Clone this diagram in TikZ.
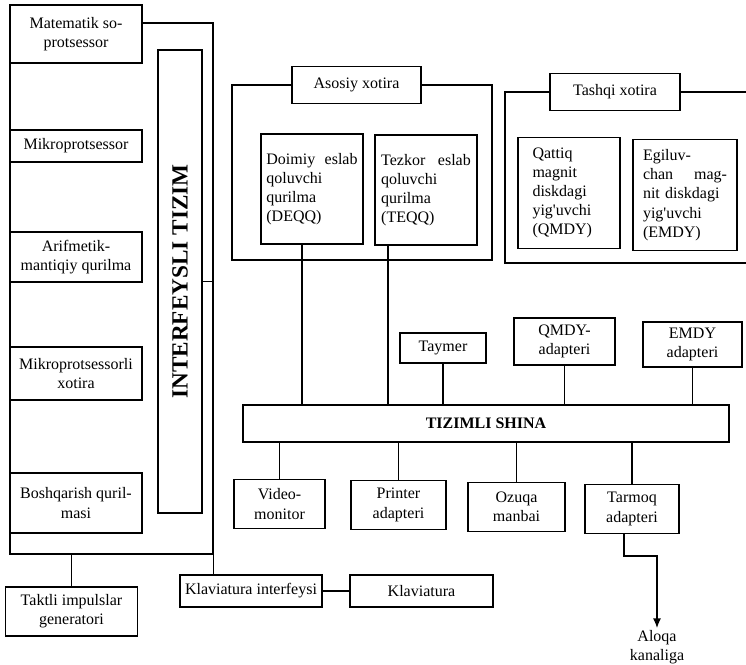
\documentclass[tikz,border=0pt]{standalone}
\usepackage{fontspec}
\setmainfont{Liberation Serif}
\usetikzlibrary{calc, positioning, arrows.meta}

\begin{document}
\begin{tikzpicture}[
        x=0.625pt, y=-0.625pt,
        font=\fontsize{10}{12}\selectfont,
        >={Latex[length=6pt, width=5pt]},
        line width=0.75pt,
        box/.style={
            draw,
            fill=white,
            align=center,
            inner sep=2pt
        },
        membox/.style={
            box,
            align=left,
            minimum width=63.75pt,
            minimum height=68.75pt
        },
        busbox/.style={
            box,
            line width=1.6pt
        },
        frame/.style={
            draw,
            inner sep=0pt
        }
    ]
    \useasboundingbox (0,0) rectangle (746,665);

    % --- PROCESSOR ---
    \node[frame, minimum width=126.9pt, minimum height=331.9pt] (cpu) at (111.5,288.5) {};
    \node[box, minimum width=82.5pt, minimum height=36.25pt] (copro) at (76,34) {Matematik so-\\protsessor};
    \node[box, minimum width=82.5pt, minimum height=20pt] (mp) at (76,146) {Mikroprotsessor};
    \node[box, minimum width=82.5pt, minimum height=31.25pt] (alu) at (76,257) {Arifmetik-\\mantiqiy qurilma};
    \node[box, minimum width=82.5pt, minimum height=33.1pt] (mpmem) at (76,373.5) {Mikroprotsessorli\\xotira};
    \node[box, minimum width=82.5pt, minimum height=37.5pt] (ctrl) at (76,503) {Boshqarish quril-\\masi};
    \node[busbox, rotate=90, minimum width=289.4pt, minimum height=27.5pt,
        font=\bfseries\fontsize{14.5}{16}\selectfont] (iface) at (180,281.5) {INTERFEYSLI TIZIM};

    % --- CLOCK, KEYBOARD ---
    \node[box, minimum width=82.5pt, minimum height=30.6pt] (clk) at (71.5,611.5) {Taktli impulslar\\generatori};
    \node[box, minimum width=88.75pt, minimum height=20pt] (kbdif) at (251,591) {Klaviatura interfeysi};
    \node[box, minimum width=89.4pt, minimum height=20pt] (kbd) at (421.5,591) {Klaviatura};

    % --- MAIN MEMORY ---
    \node[frame, minimum width=162.5pt, minimum height=109.4pt] (ram) at (362,172.5) {};
    \node[box, minimum width=80.6pt, minimum height=23.1pt] (ramlbl) at (356.5,85) {Asosiy xotira};
    \node[membox, text width=57pt] (rom) at (312,189) {Doimiy\hfill eslab\\qoluvchi\\qurilma\\(DEQQ)};
    \node[membox, text width=56pt] (dram) at (426,190) {Tezkor\hfill eslab\\qoluvchi\\qurilma\\(TEQQ)};

    % --- EXTERNAL MEMORY ---
    \draw (746,92) -- (505,92) -- (505,263) -- (746,263);
    \node[box, minimum width=81.25pt, minimum height=23.1pt] (extlbl) at (615,92) {Tashqi xotira};
    \node[membox, text width=45.6pt, minimum height=69.4pt] (hdd) at (569,193) {Qattiq\\magnit\\diskdagi\\yig\textquotesingle uvchi\\(QMDY)};
    \node[membox, text width=52.5pt, minimum width=65pt, minimum height=69.4pt] (fdd) at (685,195) {Egiluv-\\chan\hfill mag-\\nit diskdagi\\yig\textquotesingle uvchi\\(EMDY)};

    % --- SYSTEM BUS ---
    \node[busbox, minimum width=303.75pt, minimum height=23.1pt, font=\bfseries] (bus) at (486,423.5) {TIZIMLI SHINA};

    % --- DEVICES ---
    \node[box, minimum width=53.75pt, minimum height=18.75pt] (timer) at (443,348) {Taymer};
    \node[box, minimum width=63.1pt, minimum height=29.4pt] (hddad) at (564.5,341.5) {QMDY-\\adapteri};
    \node[box, minimum width=61.9pt, minimum height=28.1pt] (fddad) at (692.5,344.5) {EMDY\\adapteri};
    \node[box, minimum width=56.9pt, minimum height=30.6pt] (video) at (279.5,504) {Video-\\monitor};
    \node[box, minimum width=59.4pt, minimum height=30.6pt] (prn) at (398.5,505) {Printer\\adapteri};
    \node[box, minimum width=60.6pt, minimum height=30.6pt] (psu) at (516.5,507) {Ozuqa\\manbai};
    \node[box, minimum width=58.75pt, minimum height=30.6pt] (net) at (632,509) {Tarmoq\\adapteri};
    \node[anchor=north, align=center, inner sep=1pt] (chan) at (657,628) {Aloqa\\kanaliga};

    % --- LINKS ---
    \draw (iface) -- (iface -| cpu.east);
    \draw (cpu.south -| clk) -- (clk);
    \draw (cpu.south east) -- (cpu.south east |- kbdif.north);
    \draw (kbdif) -- (kbd);
    \draw ([xshift=-6.25pt]rom.south) -- ([xshift=-6.25pt]rom.south |- bus.north);
    \draw ([xshift=-23.75pt]dram.south) -- ([xshift=-23.75pt]dram.south |- bus.north);
    \draw (timer) -- (timer |- bus.north);
    \draw (hddad) -- (hddad |- bus.north);
    \draw (fddad) -- (fddad |- bus.north);
    \draw (video) -- (video |- bus.south);
    \draw (prn) -- (prn |- bus.south);
    \draw (psu) -- (psu |- bus.south);
    \draw (net) -- (net |- bus.south);
    \draw[->] ([xshift=-5pt]net.south) -- ++(0,22) -| (chan);

\end{tikzpicture}
\end{document}
